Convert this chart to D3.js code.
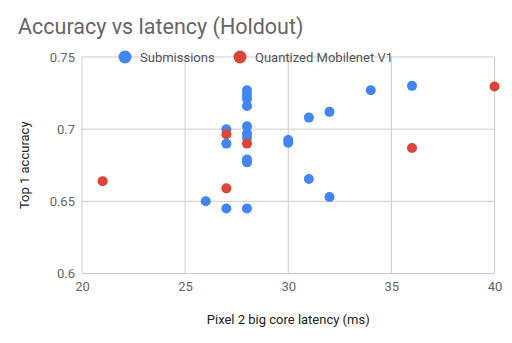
<!DOCTYPE html>
<html><head><meta charset="utf-8">
<script src="https://cdn.jsdelivr.net/npm/d3@7"></script>
<style>body{margin:0;background:#fff}svg{display:block;font-family:Roboto,Arial,sans-serif}</style>
</head><body><svg id="c" width="512" height="343"></svg>
<script>
const title = "Accuracy vs latency (Holdout)";
const xLabel = "Pixel 2 big core latency (ms)";
const yLabel = "Top 1 accuracy";
const seriesNames = ["Submissions", "Quantized Mobilenet V1"];
const seriesColors = ["#4285f4", "#db4437"];
const xTicks = [20, 25, 30, 35, 40];
const yTicks = [0.6, 0.65, 0.7, 0.75];
const yTickLabels = ["0.6", "0.65", "0.7", "0.75"];
const subX = [26, 27, 27, 27, 28, 28, 28, 28, 28, 28, 28, 28, 28, 28, 30, 30, 31, 31, 32, 32, 34, 36];
const subY = [0.650, 0.700, 0.690, 0.645, 0.727, 0.724, 0.721, 0.716, 0.702, 0.697, 0.694, 0.679, 0.677, 0.645, 0.6925, 0.6906, 0.708, 0.6655, 0.712, 0.653, 0.727, 0.730];
const qX = [21, 27, 27, 28, 36, 40];
const qY = [0.664, 0.6965, 0.659, 0.690, 0.687, 0.7295];

const svg = d3.select("#c");
const x = d3.scaleLinear().domain([20, 40]).range([82, 494.5]);
const y = d3.scaleLinear().domain([0.6, 0.75]).range([273.5, 57]);

svg.append("text").attr("x", 18).attr("y", 34).attr("font-size", 21.5).attr("fill", "#666").text(title);

const grid = svg.append("g");
grid.selectAll("line.v").data(xTicks).join("line")
  .attr("x1", d => x(d)).attr("x2", d => x(d)).attr("y1", y(0.75)).attr("y2", y(0.6))
  .attr("stroke", "#ccc").attr("stroke-width", 1);
grid.selectAll("line.h").data(yTicks).join("line")
  .attr("y1", d => y(d)).attr("y2", d => y(d)).attr("x1", x(20)).attr("x2", x(40))
  .attr("stroke", "#ccc").attr("stroke-width", 1);

const xAxis = d3.axisBottom(x).tickValues(xTicks).tickSize(0).tickPadding(8).tickFormat(d3.format("d"));
const gx = svg.append("g").attr("transform", `translate(0,${y(0.6)})`).call(xAxis);
gx.select(".domain").remove();
gx.selectAll("text").attr("font-size", 13).attr("fill", "#666").attr("font-family", "Roboto");

const yAxis = d3.axisLeft(y).tickValues(yTicks).tickSize(0).tickPadding(7).tickFormat((d, i) => yTickLabels[i]);
const gy = svg.append("g").attr("transform", `translate(${x(20)},0)`).call(yAxis);
gy.select(".domain").remove();
gy.selectAll("text").attr("font-size", 13).attr("fill", "#666").attr("font-family", "Roboto");

svg.append("text").attr("x", x(30)).attr("y", 324).attr("text-anchor", "middle")
  .attr("font-size", 13).attr("fill", "#222").text(xLabel);
svg.append("text").attr("transform", `translate(29,${y(0.675)}) rotate(-90)`).attr("text-anchor", "middle")
  .attr("font-size", 13).attr("fill", "#222").text(yLabel);

const subs = subX.map((d, i) => ({x: d, y: subY[i]}));
const qs = qX.map((d, i) => ({x: d, y: qY[i]}));
svg.append("g").selectAll("circle").data(subs).join("circle")
  .attr("cx", d => x(d.x)).attr("cy", d => y(d.y)).attr("r", 5).attr("fill", seriesColors[0]);
svg.append("g").selectAll("circle").data(qs).join("circle")
  .attr("cx", d => x(d.x)).attr("cy", d => y(d.y)).attr("r", 5).attr("fill", seriesColors[1]);

const legX = [125, 240];
const lg = svg.append("g");
seriesNames.forEach((n, i) => {
  lg.append("circle").attr("cx", legX[i]).attr("cy", 57).attr("r", 6.5).attr("fill", seriesColors[i]);
  lg.append("text").attr("x", legX[i] + 15).attr("y", 61.5).attr("font-size", 13).attr("fill", "#555").text(n);
});
</script></body></html>
